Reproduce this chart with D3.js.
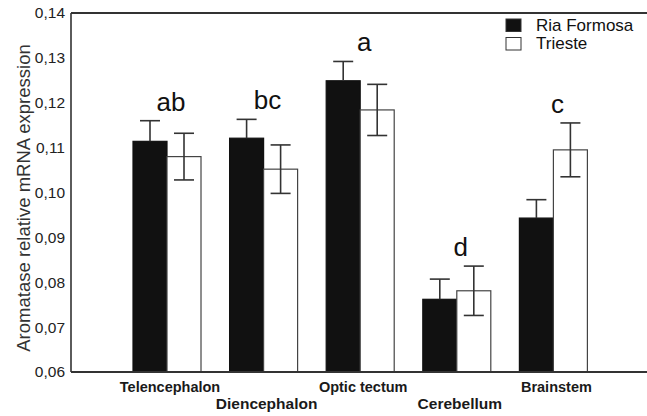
<!DOCTYPE html>
<html>
<head>
<meta charset="utf-8">
<script src="https://cdn.jsdelivr.net/npm/d3@7"></script>
<style>
  body { margin: 0; background: #fff; }
  text { font-family: "Liberation Sans", Arial, sans-serif; fill: #111; }
</style>
</head>
<body>
<script>
// chart data
var regions = ["Telencephalon", "Diencephalon", "Optic tectum", "Cerebellum", "Brainstem"];
var series = ["Ria Formosa", "Trieste"];
var riaMean = [0.1114, 0.1121, 0.1249, 0.0762, 0.0943];
var riaErr = [0.0046, 0.0042, 0.0043, 0.0045, 0.0041];
var triMean = [0.1080, 0.1052, 0.1184, 0.0781, 0.1095];
var triErr = [0.0052, 0.0054, 0.0057, 0.0055, 0.0060];
var letters = ["ab", "bc", "a", "d", "c"];
var yTicks = [0.06, 0.07, 0.08, 0.09, 0.10, 0.11, 0.12, 0.13, 0.14];

var margin = {top: 13, right: 0, bottom: 44, left: 71};
var width = 647 - margin.left - margin.right;
var height = 416 - margin.top - margin.bottom;

var svg = d3.select("body")
    .append("svg")
    .attr("width", 647)
    .attr("height", 416)
  .append("g")
    .attr("transform", "translate(" + margin.left + "," + margin.top + ")");

var rows = regions.map(function(r, i) {
  return {region: r, letter: letters[i], vals: [
    {s: series[0], mean: riaMean[i], err: riaErr[i]},
    {s: series[1], mean: triMean[i], err: triErr[i]}
  ]};
});

// scales
var x0 = d3.scaleBand()
    .domain(regions)
    .range([133 - margin.left, 587.4 - margin.left])
    .paddingInner(0.296)
    .paddingOuter(0);
var x1 = d3.scaleBand()
    .domain(series)
    .range([0, x0.bandwidth()]);
var y = d3.scaleLinear()
    .domain([0.06, 0.14])
    .range([height, 0]);

// y axis
var yAxis = svg.append("g")
    .attr("class", "y-axis")
    .call(d3.axisLeft(y).tickValues(yTicks).tickSize(0).tickPadding(6)
      .tickFormat(function(d) { return d3.format(".2f")(d).replace(".", ","); }));
yAxis.select(".domain").remove();
yAxis.selectAll("text")
    .style("font-size", "15.5px")
    .style("fill", "#222");

// frame lines
svg.append("line").attr("x1", 0).attr("x2", 0).attr("y1", 0).attr("y2", height)
    .attr("stroke", "#333").attr("stroke-width", 1.6);
svg.append("line").attr("x1", 0).attr("x2", width).attr("y1", 0).attr("y2", 0)
    .attr("stroke", "#333").attr("stroke-width", 2);

// bars
var groups = svg.selectAll(".grp")
    .data(rows).enter()
    .append("g")
    .attr("class", "grp")
    .attr("transform", function(d) { return "translate(" + x0(d.region) + ",0)"; });

groups.selectAll("rect")
    .data(function(d) { return d.vals; }).enter()
    .append("rect")
    .attr("x", function(d) { return x1(d.s); })
    .attr("width", x1.bandwidth())
    .attr("y", function(d) { return y(d.mean); })
    .attr("height", function(d) { return height - y(d.mean); })
    .attr("fill", function(d) { return d.s === series[0] ? "#111" : "#fff"; })
    .attr("stroke", function(d) { return d.s === series[0] ? "#111" : "#444"; })
    .attr("stroke-width", 1.2);

// error bars
var eb = groups.selectAll(".err")
    .data(function(d) { return d.vals; }).enter()
    .append("g")
    .attr("class", "err")
    .attr("stroke", "#333")
    .attr("stroke-width", 1.6);
eb.append("line")
    .attr("x1", function(d) { return x1(d.s) + x1.bandwidth() / 2; })
    .attr("x2", function(d) { return x1(d.s) + x1.bandwidth() / 2; })
    .attr("y1", function(d) { return d.s === series[0] ? y(d.mean) : y(d.mean - d.err); })
    .attr("y2", function(d) { return y(d.mean + d.err); });
eb.append("line")
    .attr("x1", function(d) { return x1(d.s) + x1.bandwidth() / 2 - 10; })
    .attr("x2", function(d) { return x1(d.s) + x1.bandwidth() / 2 + 10; })
    .attr("y1", function(d) { return y(d.mean + d.err); })
    .attr("y2", function(d) { return y(d.mean + d.err); });
eb.filter(function(d) { return d.s !== series[0]; })
  .append("line")
    .attr("x1", function(d) { return x1(d.s) + x1.bandwidth() / 2 - 10; })
    .attr("x2", function(d) { return x1(d.s) + x1.bandwidth() / 2 + 10; })
    .attr("y1", function(d) { return y(d.mean - d.err); })
    .attr("y2", function(d) { return y(d.mean - d.err); });

// significance letters
groups.append("text")
    .attr("x", x0.bandwidth() / 2 + 4)
    .attr("y", function(d) {
      return y(d3.max(d.vals, function(v) { return v.mean + v.err; })) - 10;
    })
    .attr("text-anchor", "middle")
    .style("font-size", "26px")
    .text(function(d) { return d.letter; });

// x axis (bottom line + staggered labels)
var xAxis = svg.append("g")
    .attr("class", "x-axis")
    .attr("transform", "translate(0," + height + ")")
    .call(d3.axisBottom(x0).tickSize(0).tickSizeOuter(0).tickPadding(0));
xAxis.select(".domain")
    .attr("d", "M0,0H" + width)
    .attr("stroke", "#333")
    .attr("stroke-width", 2);
xAxis.selectAll(".tick text")
    .attr("dx", 3)
    .attr("dy", function(d, i) { return i % 2 === 0 ? "20px" : "37px"; })
    .style("font-size", function(d, i) { return i % 2 === 0 ? "14.5px" : "15.5px"; })
    .style("font-weight", "bold")
    .style("fill", "#1a1a1a");

// y label
svg.append("text")
    .attr("transform", "translate(" + (-41) + "," + (198 - margin.top) + ") rotate(-90)")
    .attr("text-anchor", "middle")
    .style("font-size", "18.5px")
    .style("fill", "#333")
    .text("Aromatase relative mRNA expression");

// legend
var legend = svg.append("g")
    .attr("transform", "translate(" + (506 - margin.left) + "," + (19 - margin.top) + ")");
series.forEach(function(s, i) {
  legend.append("rect")
      .attr("x", 0)
      .attr("y", i * 18.5)
      .attr("width", 15)
      .attr("height", 12.5)
      .attr("fill", i === 0 ? "#111" : "#fff")
      .attr("stroke", "#333")
      .attr("stroke-width", 1);
  legend.append("text")
      .attr("x", 30)
      .attr("y", i * 18.5 + 11.5)
      .style("font-size", "17px")
      .text(s);
});
</script>
</body>
</html>
